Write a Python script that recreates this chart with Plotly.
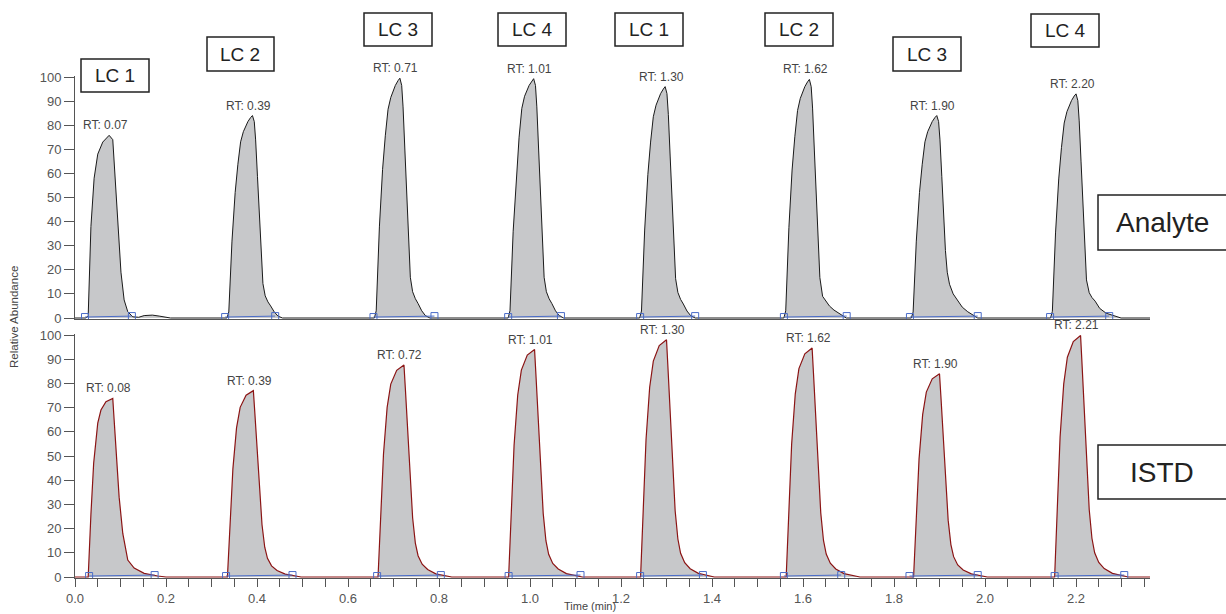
import plotly.graph_objects as go

# ---------------- data (time in min, relative abundance in %) ----------------
analyte_peak_t = [
    [0.024, 0.029, 0.035, 0.042, 0.050, 0.061, 0.072, 0.075, 0.083, 0.086, 0.090, 0.095, 0.101, 0.108, 0.116, 0.127, 0.140, 0.152, 0.170, 0.185, 0.200, 0.210],
    [0.334, 0.338, 0.345, 0.352, 0.358, 0.364, 0.370, 0.380, 0.386, 0.390, 0.394, 0.397, 0.401, 0.405, 0.409, 0.413, 0.418, 0.424, 0.430, 0.438, 0.446, 0.456],
    [0.658, 0.662, 0.669, 0.676, 0.682, 0.688, 0.694, 0.704, 0.710, 0.714, 0.718, 0.721, 0.725, 0.729, 0.733, 0.737, 0.742, 0.748, 0.754, 0.762, 0.770, 0.780],
    [0.952, 0.956, 0.963, 0.970, 0.976, 0.982, 0.988, 0.998, 1.004, 1.008, 1.012, 1.015, 1.019, 1.023, 1.027, 1.031, 1.036, 1.042, 1.048, 1.056, 1.064, 1.074],
    [1.241, 1.245, 1.252, 1.259, 1.265, 1.271, 1.277, 1.287, 1.293, 1.297, 1.301, 1.304, 1.308, 1.312, 1.316, 1.320, 1.325, 1.331, 1.337, 1.345, 1.353, 1.363],
    [1.558, 1.562, 1.569, 1.576, 1.582, 1.588, 1.594, 1.604, 1.610, 1.614, 1.618, 1.621, 1.625, 1.629, 1.633, 1.637, 1.643, 1.650, 1.658, 1.668, 1.680, 1.695],
    [1.838, 1.842, 1.849, 1.856, 1.862, 1.868, 1.874, 1.884, 1.890, 1.894, 1.898, 1.901, 1.905, 1.909, 1.913, 1.917, 1.922, 1.930, 1.940, 1.950, 1.962, 1.984],
    [2.144, 2.148, 2.155, 2.162, 2.168, 2.174, 2.180, 2.190, 2.196, 2.200, 2.204, 2.207, 2.211, 2.215, 2.219, 2.223, 2.229, 2.235, 2.242, 2.252, 2.266, 2.299],
]
analyte_peak_v = [
    [0, 1, 38, 58, 68, 73, 75.5, 75.8, 74, 65, 52, 35, 19, 7.5, 2.6, 0.5, 0.3, 1.0, 1.2, 0.8, 0.2, 0],
    [0, 2.5, 31.9, 52.1, 63.8, 73.1, 77.3, 81.5, 83.2, 84, 81.5, 73.9, 58.8, 42, 26, 14.3, 9.2, 6.7, 5, 2.5, 0.8, 0],
    [0, 3, 37.8, 61.7, 75.6, 86.6, 91.5, 96.5, 98.5, 99.5, 96.5, 87.6, 69.7, 49.8, 30.8, 16.9, 10.9, 8, 6, 3, 1, 0],
    [0, 3, 36, 60, 75, 87, 92, 96.5, 98.5, 99.3, 96.5, 87.6, 69.7, 49.8, 30.8, 16.9, 10.9, 8, 6, 3, 1, 0],
    [0, 2.9, 36.5, 59.5, 73, 83.5, 88.3, 93.1, 95, 96, 93.1, 84.5, 67.2, 48, 29.8, 16.3, 10.6, 7.7, 5.8, 2.9, 1, 0],
    [0, 3, 37.6, 61.4, 75.2, 86.1, 91.1, 96, 98, 99, 96, 87.1, 69.3, 49.5, 30.7, 16.8, 9, 7, 5, 3.3, 1.8, 0],
    [0, 2.5, 31.9, 52.1, 63.8, 73.1, 77.3, 81.5, 83.2, 84, 81.5, 73.9, 58.8, 42, 28, 19, 14, 10, 7.5, 4.5, 2.6, 0],
    [0, 2.8, 35.3, 57.7, 70.7, 80.9, 85.6, 90.2, 92.1, 93, 90.2, 81.8, 65.1, 46.5, 28.8, 15.8, 10.5, 8.5, 7, 4, 2, 0],
]
istd_peak_t = [
    [0.029, 0.035, 0.041, 0.050, 0.057, 0.068, 0.083, 0.086, 0.092, 0.097, 0.105, 0.110, 0.116, 0.130, 0.152, 0.182, 0.200],
    [0.335, 0.341, 0.347, 0.355, 0.363, 0.376, 0.392, 0.395, 0.400, 0.405, 0.411, 0.417, 0.423, 0.432, 0.444, 0.462, 0.482, 0.497],
    [0.666, 0.672, 0.678, 0.686, 0.694, 0.707, 0.723, 0.726, 0.731, 0.736, 0.742, 0.748, 0.754, 0.763, 0.775, 0.793, 0.813, 0.828],
    [0.953, 0.959, 0.965, 0.973, 0.981, 0.994, 1.010, 1.013, 1.018, 1.023, 1.029, 1.035, 1.041, 1.050, 1.062, 1.080, 1.100, 1.115],
    [1.243, 1.249, 1.255, 1.263, 1.271, 1.284, 1.300, 1.303, 1.308, 1.313, 1.319, 1.325, 1.331, 1.340, 1.352, 1.370, 1.390, 1.405],
    [1.563, 1.569, 1.575, 1.583, 1.591, 1.604, 1.620, 1.623, 1.628, 1.633, 1.639, 1.645, 1.651, 1.660, 1.672, 1.690, 1.710, 1.725],
    [1.843, 1.849, 1.855, 1.863, 1.871, 1.884, 1.900, 1.903, 1.908, 1.913, 1.919, 1.925, 1.931, 1.940, 1.952, 1.970, 1.990, 2.005],
    [2.153, 2.159, 2.165, 2.173, 2.181, 2.194, 2.210, 2.213, 2.218, 2.223, 2.229, 2.235, 2.241, 2.250, 2.262, 2.280, 2.300, 2.315],
]
istd_peak_v = [
    [0, 26, 47, 63.6, 69, 72.4, 73.8, 65, 48, 33, 18, 13, 7, 3.7, 1.5, 0.4, 0],
    [0, 23.1, 44.7, 61.6, 70.1, 75.1, 77, 68.5, 52.4, 36.2, 21.6, 12.3, 7.7, 4.6, 2.7, 1.2, 0.4, 0],
    [0, 26.3, 50.8, 70.1, 79.7, 85.4, 87.6, 78, 59.6, 41.2, 24.5, 14, 8.8, 5.3, 3.1, 1.3, 0.4, 0],
    [0, 28.2, 54.5, 75.2, 85.5, 91.7, 94, 83.7, 63.9, 44.2, 26.3, 15, 9.4, 5.6, 3.3, 1.4, 0.5, 0],
    [0, 29.4, 56.8, 78.4, 89.2, 95.6, 98, 87.2, 66.6, 46.1, 27.4, 15.7, 9.8, 5.9, 3.4, 1.5, 0.5, 0],
    [0, 28.4, 54.9, 75.7, 86.1, 92.2, 94.6, 84.2, 64.3, 44.5, 26.5, 15.1, 9.5, 5.7, 3.3, 1.4, 0.5, 0],
    [0, 25.2, 48.7, 67.2, 76.4, 81.9, 84, 74.8, 57.1, 39.5, 23.5, 13.4, 8.4, 5, 2.9, 1.3, 0.4, 0],
    [0, 29.9, 57.9, 79.8, 90.8, 97.3, 99.8, 88.8, 67.9, 46.9, 27.9, 16, 10, 6, 3.5, 1.5, 0.5, 0],
]

run_start = 0.0
run_end = 2.3626

analyte_int_start = [0.022, 0.330, 0.656, 0.952, 1.242, 1.558, 1.835, 2.143]
analyte_int_end = [0.125, 0.440, 0.790, 1.068, 1.363, 1.696, 1.984, 2.273]
istd_int_start = [0.031, 0.332, 0.664, 0.953, 1.242, 1.558, 1.834, 2.153]
istd_int_end = [0.175, 0.478, 0.804, 1.111, 1.380, 1.684, 1.984, 2.306]
int_level_start = 0.4
int_level_end = 0.8

analyte_rt_labels = ["RT: 0.07", "RT: 0.39", "RT: 0.71", "RT: 1.01", "RT: 1.30", "RT: 1.62", "RT: 1.90", "RT: 2.20"]
istd_rt_labels = ["RT: 0.08", "RT: 0.39", "RT: 0.72", "RT: 1.01", "RT: 1.30", "RT: 1.62", "RT: 1.90", "RT: 2.21"]

lc_labels = ["LC 1", "LC 2", "LC 3", "LC 4", "LC 1", "LC 2", "LC 3", "LC 4"]
y_ticks = [0, 10, 20, 30, 40, 50, 60, 70, 80, 90, 100]

# ---------------- styling / layout constants ----------------
W, H = 1226, 614
FONT = "Liberation Sans, Arial, sans-serif"
AXC = "#555555"
FILL = "#c7c8ca"


def px_x(p):
    return p / W


def px_y(p):
    return 1 - p / H


def build_series(peaks_t, peaks_v):
    xs, ys = [run_start], [0]
    for t, v in zip(peaks_t, peaks_v):
        xs += t
        ys += v
    xs.append(run_end)
    ys.append(0)
    return xs, ys


def build_int(starts, ends):
    xs, ys = [], []
    for s, e in zip(starts, ends):
        xs += [s, e, None]
        ys += [int_level_start, int_level_end, None]
    return xs, ys


ax, ay = build_series(analyte_peak_t, analyte_peak_v)
ix, iy = build_series(istd_peak_t, istd_peak_v)

fig = go.Figure()
fig.add_trace(go.Scatter(x=ax, y=ay, xaxis="x2", yaxis="y2", mode="lines",
                         line=dict(color="#1a1a1a", width=1), fill="tozeroy",
                         fillcolor=FILL, hoverinfo="skip"))
fig.add_trace(go.Scatter(x=ix, y=iy, xaxis="x", yaxis="y", mode="lines",
                         line=dict(color="#8b1414", width=1.2), fill="tozeroy",
                         fillcolor=FILL, hoverinfo="skip"))

for starts, ends, xr, yr in [(analyte_int_start, analyte_int_end, "x2", "y2"),
                             (istd_int_start, istd_int_end, "x", "y")]:
    bx, by = build_int(starts, ends)
    fig.add_trace(go.Scatter(x=bx, y=by, xaxis=xr, yaxis=yr, mode="lines+markers",
                             line=dict(color="#4a6cc8", width=1),
                             marker=dict(symbol="square-open", size=7, color="#4a6cc8",
                                         line=dict(width=1)),
                             hoverinfo="skip"))

annotations = []
# RT labels at each apex
for peaks_t, peaks_v, labels, xr, yr in [
    (analyte_peak_t, analyte_peak_v, analyte_rt_labels, "x2", "y2"),
    (istd_peak_t, istd_peak_v, istd_rt_labels, "x", "y"),
]:
    for t, v, lab in zip(peaks_t, peaks_v, labels):
        k = v.index(max(v))
        annotations.append(dict(x=t[k], y=v[k], xref=xr, yref=yr, text=lab,
                                showarrow=False, xanchor="center", yanchor="middle",
                                xshift=-4, yshift=10,
                                font=dict(family=FONT, size=12, color="#444444")))

# boxed LC labels (pixel boxes)
lc_boxes = [(81, 149, 59, 92), (207, 274, 37, 71), (364, 432, 13, 46), (498, 566, 13, 46),
            (615, 683, 13, 46), (765, 833, 13, 46), (893, 961, 37, 71), (1031, 1099, 14, 47)]
shapes = []
for lab, (x0, x1, y0, y1) in zip(lc_labels, lc_boxes):
    shapes.append(dict(type="rect", xref="paper", yref="paper",
                       x0=px_x(x0), x1=px_x(x1), y0=px_y(y1), y1=px_y(y0),
                       line=dict(color="#222222", width=1.5)))
    annotations.append(dict(x=px_x((x0 + x1) / 2), y=px_y((y0 + y1) / 2), xref="paper",
                            yref="paper", text=lab, showarrow=False,
                            xanchor="center", yanchor="middle",
                            font=dict(family=FONT, size=19, color="#222222")))

for lab, (x0, x1, y0, y1) in [("Analyte", (1098, 1240, 195, 250)), ("ISTD", (1098, 1240, 445, 499))]:
    shapes.append(dict(type="rect", xref="paper", yref="paper",
                       x0=px_x(x0), x1=px_x(x1), y0=px_y(y1), y1=px_y(y0),
                       line=dict(color="#222222", width=1.5)))
    annotations.append(dict(x=px_x(1162), y=px_y((y0 + y1) / 2), xref="paper",
                            yref="paper", text=lab, showarrow=False,
                            xanchor="center", yanchor="middle",
                            font=dict(family=FONT, size=28, color="#222222")))

annotations.append(dict(x=px_x(590), y=px_y(606), xref="paper", yref="paper",
                        text="Time (min)", showarrow=False,
                        xanchor="center", yanchor="middle",
                        font=dict(family=FONT, size=11, color="#444444")))
annotations.append(dict(x=px_x(14), y=px_y(317), xref="paper", yref="paper",
                        text="Relative Abundance", showarrow=False, textangle=-90,
                        xanchor="center", yanchor="middle",
                        font=dict(family=FONT, size=11.5, color="#444444")))

xdom = [px_x(75), px_x(1150)]
ycommon = dict(range=[-0.6, 100.6], tickmode="array", tickvals=y_ticks,
               ticks="outside", ticklen=10, tickcolor=AXC, tickwidth=1,
               showline=True, linecolor=AXC, linewidth=1, showgrid=False,
               zeroline=False, automargin=False,
               tickfont=dict(family=FONT, size=13, color="#555555"))

fig.update_layout(
    width=W, height=H, margin=dict(l=0, r=0, t=0, b=0, pad=0, autoexpand=False),
    paper_bgcolor="white", plot_bgcolor="white", showlegend=False,
    xaxis=dict(domain=xdom, range=[run_start, run_end], anchor="y", automargin=False,
               tick0=0, dtick=0.2, tickformat=".1f", ticks="outside", ticklen=8,
               tickcolor=AXC, tickwidth=1,
               minor=dict(dtick=0.05, ticks="outside", ticklen=8, tickcolor=AXC, tickwidth=1),
               showline=True, linecolor=AXC, linewidth=1, showgrid=False, zeroline=False,
               tickfont=dict(family=FONT, size=13, color="#555555")),
    yaxis=dict(domain=[px_y(578.45), px_y(333.55)], anchor="x", **ycommon),
    xaxis2=dict(domain=xdom, range=[run_start, run_end], anchor="y2", matches="x",
                automargin=False, showticklabels=False, ticks="", showline=True,
                linecolor=AXC, linewidth=1, showgrid=False, zeroline=False),
    yaxis2=dict(domain=[px_y(319.45), px_y(75.55)], anchor="x2", **ycommon),
    shapes=shapes,
    annotations=annotations,
)

fig.write_html("out.html")
